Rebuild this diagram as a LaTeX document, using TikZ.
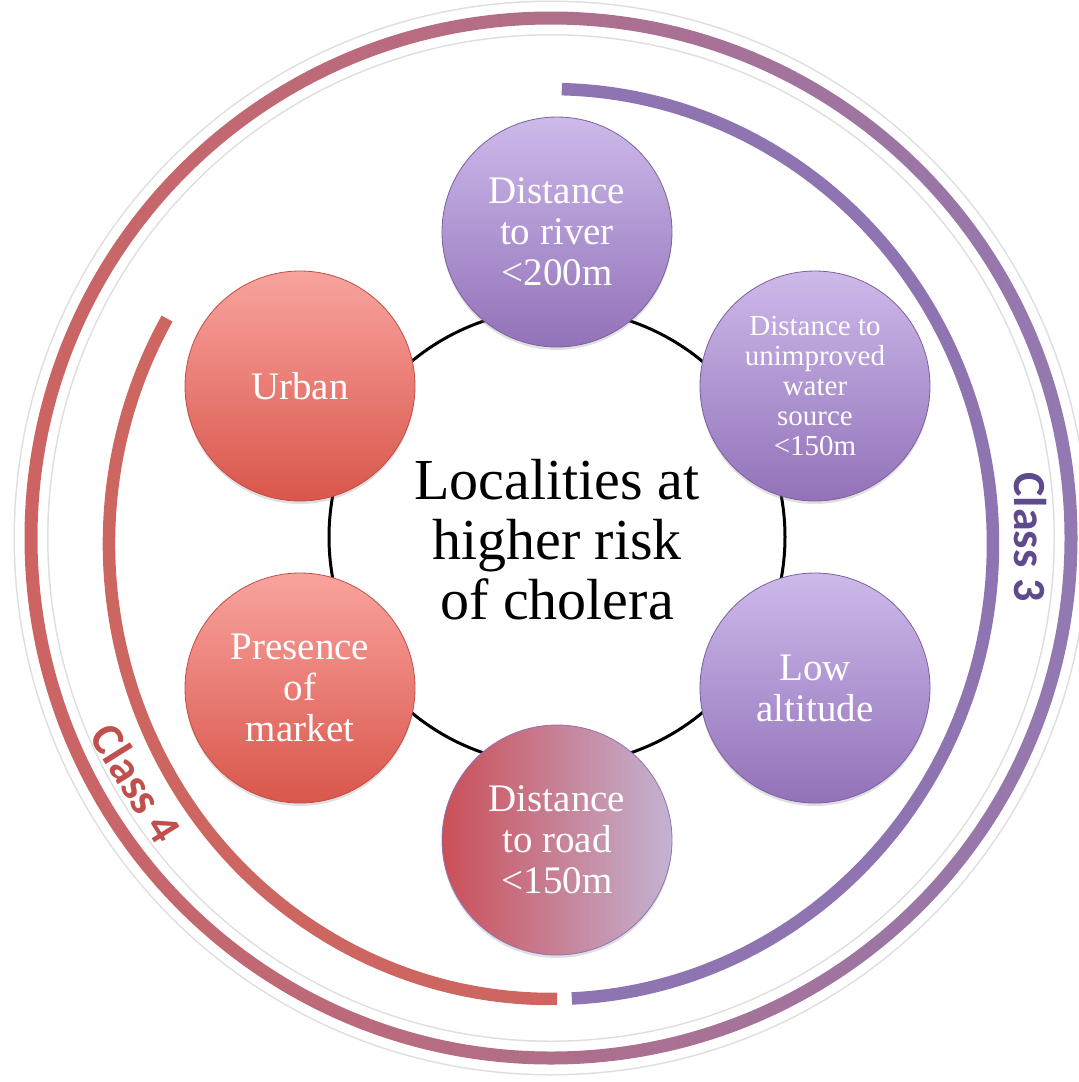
\documentclass[tikz,border=0pt]{standalone}
\usepackage{fontspec}
\setmainfont{Liberation Serif}
\newfontfamily\classfont{Carlito}
\usetikzlibrary{shadows,calc}
\definecolor{ringred}{HTML}{CD6462}
\definecolor{ringpurple}{HTML}{9279B2}
\definecolor{arcpurple}{HTML}{8E74B0}
\definecolor{arcred}{HTML}{CD6560}
\definecolor{purtop}{HTML}{CDB9EA}
\definecolor{purbot}{HTML}{9272B9}
\definecolor{redtop}{HTML}{F9A39E}
\definecolor{redbot}{HTML}{D9564B}
\definecolor{mixleft}{HTML}{CB4F57}
\definecolor{mixright}{HTML}{C3B3D3}
\definecolor{classthree}{HTML}{5F4A8B}
\definecolor{classfour}{HTML}{C0504D}
\begin{document}
\begin{tikzpicture}[x=1pt,y=-1pt,
  factor/.style={circle, minimum size=230pt, inner sep=0pt, align=center,
    text=white, font=\fontsize{39}{41}\selectfont, line width=0.8pt,
    drop shadow={shadow xshift=0pt, shadow yshift=-3pt, opacity=0.25}},
  purplefactor/.style={factor, draw=purbot!85!black, top color=purtop, bottom color=purbot},
  redfactor/.style={factor, draw=redbot!90!black, top color=redtop, bottom color=redbot},
  mixfactor/.style={factor, draw=purbot, left color=mixleft, right color=mixright},
  classlabel/.style={font=\classfont\bfseries\fontsize{46}{48}\selectfont, inner sep=0pt},
  hub/.style={line width=3pt, black},
  classarc/.style={line width=12.5pt, line cap=butt}]
\useasboundingbox (0,0) rectangle (1079,1082);
% outer ring
\coordinate (oc) at (551,538);
\draw[line width=35pt, black!13] (oc) circle[radius=520pt];
\draw[line width=32pt, white] (oc) circle[radius=520pt];
\shade[left color=ringred, right color=ringpurple, even odd rule]
  (oc) circle[radius=526.5pt] (oc) circle[radius=513.5pt];
% class arcs
\coordinate (ac) at (551,544);
\draw[classarc, arcpurple] ($(ac)+(88.6:442pt and 455pt)$)
  arc[start angle=88.6, end angle=-87.3, x radius=442pt, y radius=455pt];
\draw[classarc, arcred] ($(ac)+(150.3:442pt and 455pt)$)
  arc[start angle=150.3, end angle=270.8, x radius=442pt, y radius=455pt];
% hub circle
\coordinate (ctr) at (557,537);
\draw[hub] (ctr) circle[radius=228pt];
% central text
\node[font=\fontsize{58}{60}\selectfont, align=center, inner sep=0pt] (title) at (557,540)
  {Localities at\\higher risk\\of cholera};
% factors
\node[purplefactor] (river) at (557,232) {Distance\\to river\\<200m};
\node[purplefactor, font=\fontsize{29}{30}\selectfont] (water) at (815,386)
  {Distance to\\unimproved\\water\\source\\<150m};
\node[purplefactor] (alt) at (815,688) {Low\\altitude};
\node[mixfactor] (road) at (557,840) {Distance\\to road\\<150m};
\node[redfactor] (market) at (300,688) {Presence\\of\\market};
\node[redfactor] (urban) at (300,386) {Urban};
% class labels
\node[classlabel, text=classthree, rotate=-90] (c3) at (1030,537) {Class 3};
\node[classlabel, text=classfour, rotate=-58] (c4) at (136,783) {Class 4};
\end{tikzpicture}
\end{document}
